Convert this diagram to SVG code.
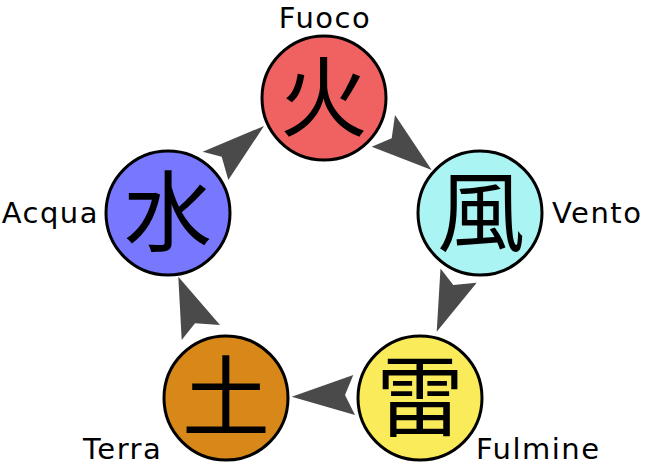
<svg xmlns="http://www.w3.org/2000/svg" width="648" height="476" viewBox="0 0 648 476">
<style>
.node circle{stroke:#000;stroke-width:3}
.kanji{font-family:"Noto Sans CJK JP","Noto Sans CJK SC",sans-serif;font-size:88px;text-anchor:middle;fill:#000}
.label{font-family:"DejaVu Sans",Verdana,sans-serif;font-size:29px;letter-spacing:1.5px;fill:#000}
.arrow{fill:#4a4a4a}
</style>
<rect width="648" height="476" fill="#fff"/>
<g id="connectors">
<polygon class="arrow" points="431.7,170 395,115 391.7,138.3 371.7,146.7"/>
<polygon class="arrow" points="436.7,331.7 440.5,268.5 453.3,285 476.7,282.7"/>
<polygon class="arrow" points="291.7,396.7 353.3,375 345,395 355,415"/>
<polygon class="arrow" points="178.3,276.7 220,325 195,323.3 181.7,340"/>
<polygon class="arrow" points="264,126 202.7,151.7 221.7,156.7 228.3,180"/>
</g>
<g id="fuoco" class="node">
<circle cx="324" cy="98" r="62" fill="#f06262"/>
<text class="kanji" x="324" y="129">火</text>
<text class="label" x="325" y="27.5" text-anchor="middle">Fuoco</text>
</g>
<g id="vento" class="node">
<circle cx="480" cy="213" r="62" fill="#aaf4f4"/>
<text class="kanji" x="481" y="244">風</text>
<text class="label" x="552" y="223">Vento</text>
</g>
<g id="fulmine" class="node">
<circle cx="420" cy="398" r="62" fill="#faeb5a"/>
<text class="kanji" x="420" y="429">雷</text>
<text class="label" x="476" y="459">Fulmine</text>
</g>
<g id="terra" class="node">
<circle cx="226" cy="398" r="62" fill="#d88818"/>
<text class="kanji" x="226" y="429">土</text>
<text class="label" x="83" y="459">Terra</text>
</g>
<g id="acqua" class="node">
<circle cx="168" cy="213" r="62" fill="#7878ff"/>
<text class="kanji" x="168" y="244">水</text>
<text class="label" x="99" y="223" text-anchor="end">Acqua</text>
</g>
</svg>
